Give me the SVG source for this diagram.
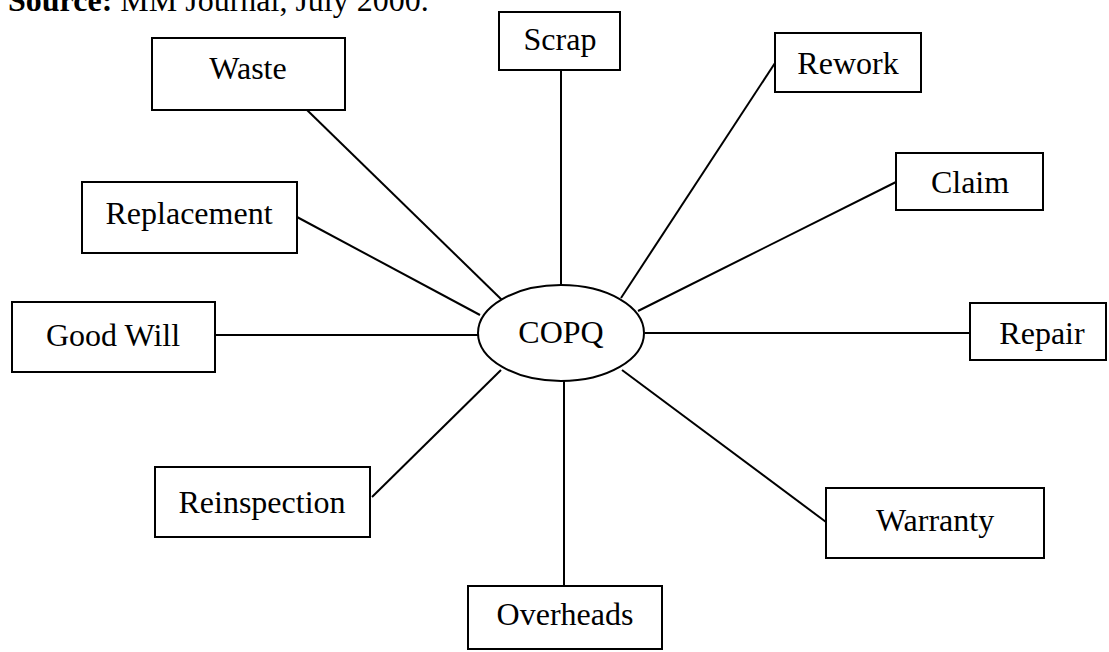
<svg xmlns="http://www.w3.org/2000/svg" width="1109" height="652" viewBox="0 0 1109 652">
<style>
.box{fill:#fff;stroke:#000;stroke-width:2}
.lbl{font-family:"Liberation Serif","Times New Roman",serif;font-size:32px;fill:#000;text-anchor:middle}
.conn line{stroke:#000;stroke-width:2}
</style>
<rect width="1109" height="652" fill="#fff"/>
<text x="8" y="11" font-family="Liberation Serif, serif" font-size="32" fill="#000"><tspan font-weight="bold">Source:</tspan> MM Journal, July 2000.</text>
<g class="conn">
<line x1="307" y1="110" x2="502" y2="300"/>
<line x1="561" y1="70" x2="561" y2="286"/>
<line x1="775" y1="63" x2="621" y2="298"/>
<line x1="896" y1="182" x2="638" y2="311"/>
<line x1="297" y1="217" x2="480" y2="315"/>
<line x1="215" y1="335" x2="478" y2="335"/>
<line x1="645" y1="333" x2="970" y2="333"/>
<line x1="372" y1="497" x2="501" y2="370"/>
<line x1="564" y1="380" x2="564" y2="586"/>
<line x1="826" y1="522" x2="622" y2="370"/>
</g>
<g id="node-waste"><rect class="box" x="152" y="38" width="193" height="72"/><text class="lbl" x="248" y="79">Waste</text></g>
<g id="node-scrap"><rect class="box" x="499" y="12" width="121" height="58"/><text class="lbl" x="560" y="50">Scrap</text></g>
<g id="node-rework"><rect class="box" x="775" y="33" width="146" height="59"/><text class="lbl" x="848" y="74">Rework</text></g>
<g id="node-replacement"><rect class="box" x="82" y="182" width="215" height="71"/><text class="lbl" x="189" y="224">Replacement</text></g>
<g id="node-claim"><rect class="box" x="896" y="153" width="147" height="57"/><text class="lbl" x="970" y="193">Claim</text></g>
<g id="node-goodwill"><rect class="box" x="12" y="302" width="203" height="70"/><text class="lbl" x="113" y="346">Good Will</text></g>
<g id="node-copq"><ellipse cx="561" cy="333" rx="83" ry="48" fill="#fff" stroke="#000" stroke-width="2"/><text class="lbl" x="561" y="343">COPQ</text></g>
<g id="node-repair"><rect class="box" x="970" y="303" width="136" height="57"/><text class="lbl" x="1042" y="344">Repair</text></g>
<g id="node-reinspection"><rect class="box" x="155" y="467" width="215" height="70"/><text class="lbl" x="262" y="513">Reinspection</text></g>
<g id="node-warranty"><rect class="box" x="826" y="488" width="218" height="70"/><text class="lbl" x="935" y="531">Warranty</text></g>
<g id="node-overheads"><rect class="box" x="468" y="586" width="194" height="63"/><text class="lbl" x="565" y="625">Overheads</text></g>
</svg>
